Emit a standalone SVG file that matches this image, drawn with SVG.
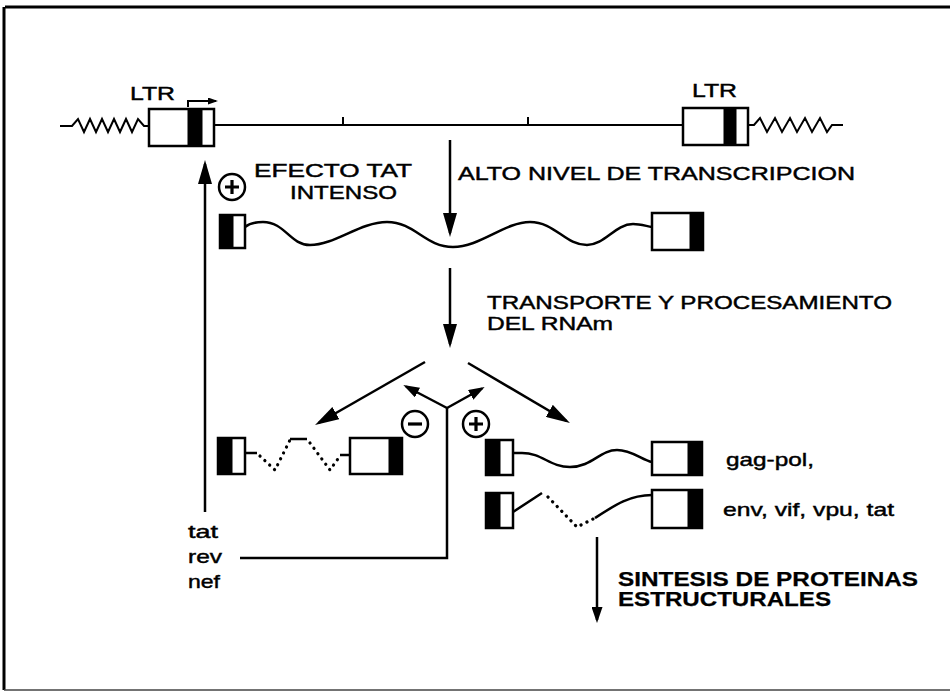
<svg xmlns="http://www.w3.org/2000/svg" width="950" height="692" viewBox="0 0 950 692">
<style>
.t{font-family:"Liberation Sans",Arial,sans-serif;font-size:19px;fill:#000;stroke:#000;stroke-width:0.45}
.b{font-weight:bold;font-size:20px;stroke-width:0.25}
.ln{fill:none;stroke:#000;stroke-width:2.5}
.thin{fill:none;stroke:#000;stroke-width:2}
.box{fill:#fff;stroke:#000;stroke-width:2.5}
.blk{fill:#000;stroke:#000;stroke-width:1}
.dot{fill:none;stroke:#000;stroke-width:3.2;stroke-linecap:round;stroke-dasharray:0.1 6.5}
.circ{fill:#fff;stroke:#000;stroke-width:2.5}
.sg{stroke:#000;stroke-width:3.2}
</style>
<defs>
<marker id="ah" viewBox="0 0 24 14" refX="20" refY="7" markerWidth="24" markerHeight="14" markerUnits="userSpaceOnUse" orient="auto"><path d="M0,0 L24,7 L0,14 z" fill="#000"/></marker>
<marker id="ahs" viewBox="0 0 16 11" refX="13" refY="5.5" markerWidth="16" markerHeight="11" markerUnits="userSpaceOnUse" orient="auto"><path d="M0,0 L16,5.5 L0,11 z" fill="#000"/></marker>
<marker id="aht" viewBox="0 0 10 7" refX="8" refY="3.5" markerWidth="10" markerHeight="7" markerUnits="userSpaceOnUse" orient="auto"><path d="M0,0 L10,3.5 L0,7 z" fill="#000"/></marker>
</defs>

<g id="frame">
<path d="M5,7 H950 M4,7 V690" fill="none" stroke="#000" stroke-width="3"/>
<path d="M4,690 H950" fill="none" stroke="#444" stroke-width="1.5"/>
</g>

<g id="provirus">
<path class="thin" d="M60,126 L72,126 L78,119 L84,132 L90,119 L96,132 L102,119 L108,132 L114,119 L120,132 L126,119 L132,132 L138,119 L144,126 L149,126"/>
<path class="thin" d="M214,125 H683 M343,117 V125 M528,117 V125"/>
<path class="thin" d="M748,125 L754,125 L760,118 L767,132 L775,118 L782,132 L790,118 L797,132 L805,118 L812,132 L820,118 L827,132 L832,125 L843,125"/>
</g>

<g id="ltr-left">
<rect class="box" x="149" y="109" width="65" height="37"/>
<rect class="blk" x="188" y="109" width="14" height="37"/>
<text class="t" x="130" y="100" font-size="21" textLength="45" lengthAdjust="spacingAndGlyphs">LTR</text>
<path class="thin" d="M188,107 V101 H216" marker-end="url(#aht)"/>
</g>

<g id="ltr-right">
<rect class="box" x="683" y="108" width="65" height="37"/>
<rect class="blk" x="724" y="108" width="12" height="37"/>
<text class="t" x="692" y="97" font-size="21" textLength="45" lengthAdjust="spacingAndGlyphs">LTR</text>
</g>

<g id="mrna-full">
<path class="ln" d="M245,227 C250,223 256,222 263,222 C285,222 290,245 310,245 C335,245 360,222 387,222 C415,222 425,247 453,247 C480,247 505,222 530,222 C555,222 565,245 587,245 C605,245 615,224 633,224 C640,224 646,226 652,227"/>
<rect class="box" x="220" y="215" width="25" height="33"/>
<rect class="blk" x="220" y="215" width="13" height="33"/>
<rect class="box" x="652" y="213" width="51" height="37"/>
<rect class="blk" x="690" y="213" width="13" height="37"/>
</g>

<g id="mrna-spliced">
<path class="ln" d="M243,453 H257 M290,439 H307 M340,455 H350"/>
<path class="dot" d="M260,456 L275,470 L290,440 M310,443 L330,470 L340,456"/>
<rect class="box" x="218" y="438" width="27" height="36"/>
<rect class="blk" x="218" y="438" width="14" height="36"/>
<rect class="box" x="350" y="438" width="52" height="36"/>
<rect class="blk" x="389" y="438" width="13" height="36"/>
</g>

<g id="mrna-gagpol">
<path class="ln" d="M513,453 L522,453 C542,453 550,467 570,467 C592,467 600,450 617,450 C632,450 642,460 652,462"/>
<rect class="box" x="486" y="440" width="27" height="35"/>
<rect class="blk" x="486" y="440" width="14" height="35"/>
<rect class="box" x="652" y="442" width="50" height="33"/>
<rect class="blk" x="688" y="442" width="14" height="33"/>
<text class="t" x="726" y="466" textLength="88" lengthAdjust="spacingAndGlyphs">gag-pol,</text>
</g>

<g id="mrna-env">
<path class="ln" d="M513,512 L542,493 M595,518 C615,505 630,495 652,495"/>
<path class="dot" d="M548,497 L577,527 L595,518"/>
<rect class="box" x="486" y="493" width="27" height="35"/>
<rect class="blk" x="486" y="493" width="14" height="35"/>
<rect class="box" x="652" y="490" width="50" height="38"/>
<rect class="blk" x="688" y="490" width="14" height="38"/>
<text class="t" x="723" y="516" textLength="171" lengthAdjust="spacingAndGlyphs">env, vif, vpu, tat</text>
</g>

<g id="connectors">
<line class="ln" x1="450" y1="140" x2="450" y2="233" marker-end="url(#ah)"/>
<line class="ln" x1="450" y1="268" x2="450" y2="344" marker-end="url(#ah)"/>
<line class="ln" x1="425" y1="362" x2="318.5" y2="423" marker-end="url(#ah)"/>
<line class="ln" x1="468" y1="363" x2="566.5" y2="421" marker-end="url(#ah)"/>
<path class="ln" d="M240,558 H447 V408"/>
<line class="ln" x1="447" y1="408" x2="406" y2="386.5" marker-end="url(#ahs)"/>
<line class="ln" x1="447" y1="408" x2="482" y2="388.5" marker-end="url(#ahs)"/>
<line class="ln" x1="205" y1="512" x2="205" y2="164" marker-end="url(#ah)"/>
<line class="ln" x1="597" y1="537" x2="597" y2="620" marker-end="url(#ahs)"/>
</g>

<g id="sign-plus-top">
<circle class="circ" cx="232" cy="187" r="13"/>
<path class="sg" d="M225,187 H239 M232,180 V194"/>
</g>
<g id="sign-minus">
<circle class="circ" cx="415" cy="424" r="13"/>
<path class="sg" d="M408,424 H422"/>
</g>
<g id="sign-plus">
<circle class="circ" cx="476" cy="424" r="13"/>
<path class="sg" d="M469,424 H483 M476,417 V431"/>
</g>

<g id="labels">
<text class="t" x="254" y="177" textLength="158" lengthAdjust="spacingAndGlyphs">EFECTO TAT</text>
<text class="t" x="290" y="199" textLength="107" lengthAdjust="spacingAndGlyphs">INTENSO</text>
<text class="t" x="458" y="180" textLength="397" lengthAdjust="spacingAndGlyphs">ALTO NIVEL DE TRANSCRIPCION</text>
<text class="t" x="487" y="309" textLength="405" lengthAdjust="spacingAndGlyphs">TRANSPORTE Y PROCESAMIENTO</text>
<text class="t" x="487" y="330" textLength="126" lengthAdjust="spacingAndGlyphs">DEL RNAm</text>
<text class="t" x="188" y="538" textLength="30" lengthAdjust="spacingAndGlyphs">tat</text>
<text class="t" x="188" y="563" textLength="34" lengthAdjust="spacingAndGlyphs">rev</text>
<text class="t" x="188" y="588" textLength="32" lengthAdjust="spacingAndGlyphs">nef</text>
<text class="t b" x="618" y="586" textLength="300" lengthAdjust="spacingAndGlyphs">SINTESIS DE PROTEINAS</text>
<text class="t b" x="618" y="606" textLength="213" lengthAdjust="spacingAndGlyphs">ESTRUCTURALES</text>
</g>
</svg>
